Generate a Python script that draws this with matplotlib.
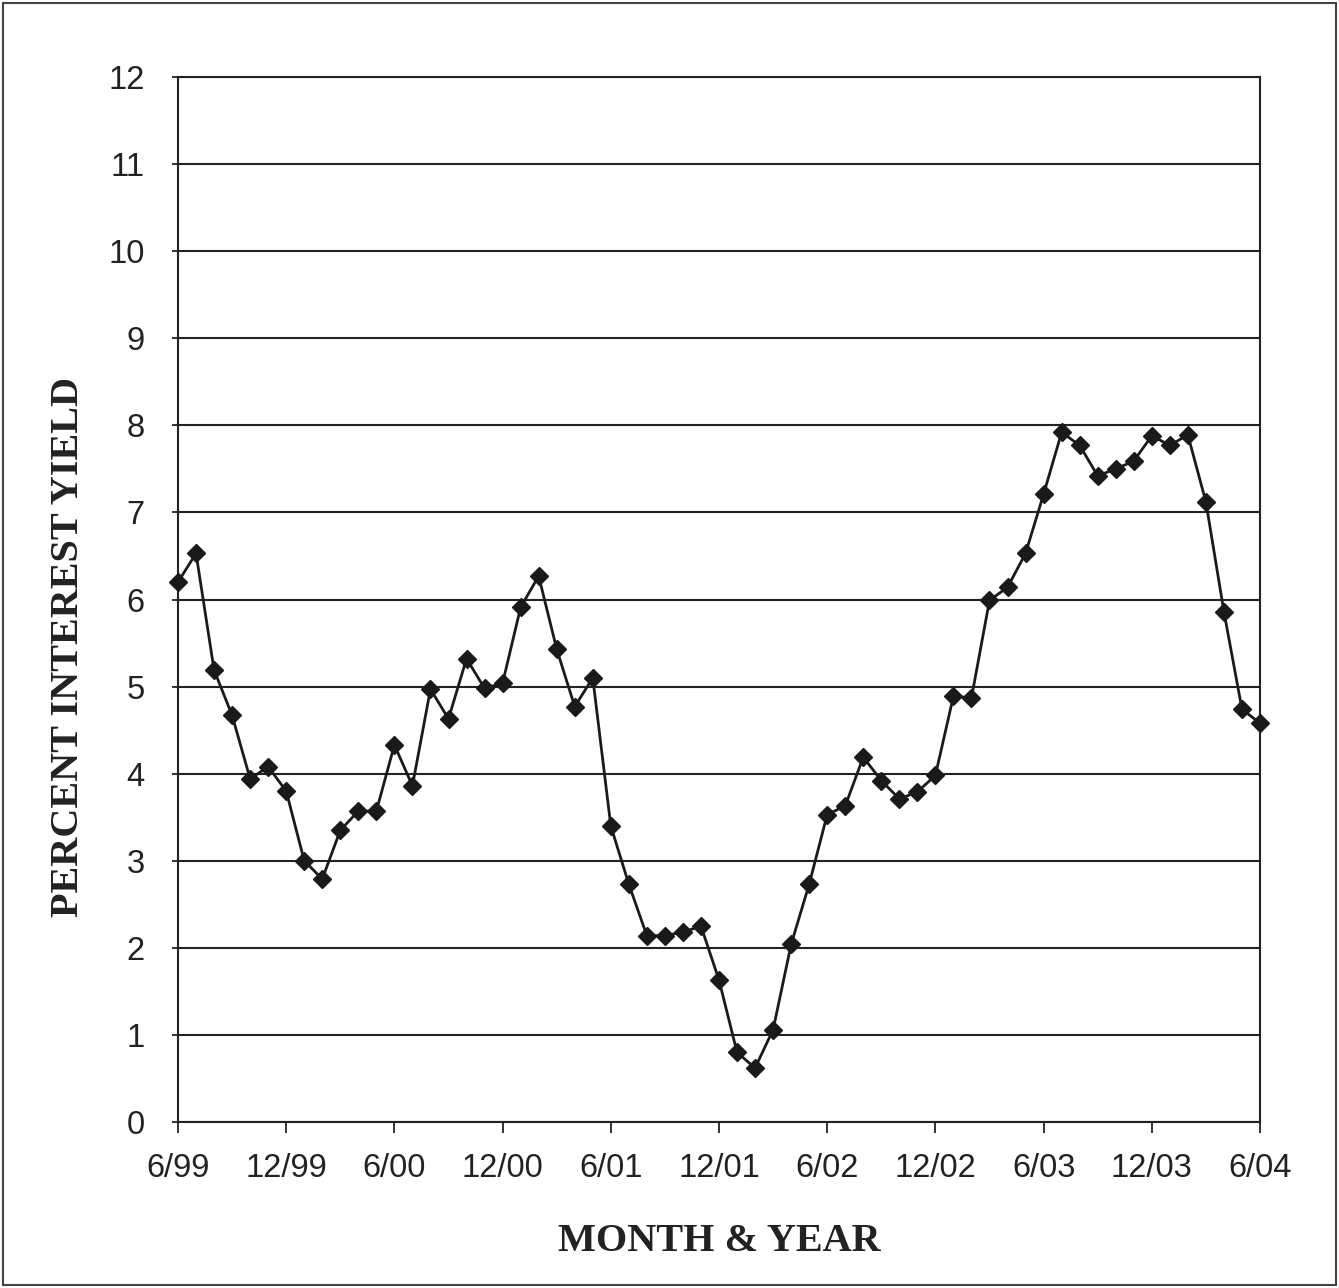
import matplotlib
matplotlib.use("Agg")
import matplotlib.pyplot as plt
from matplotlib.patches import Rectangle

tick_labels = ["6/99", "12/99", "6/00", "12/00", "6/01", "12/01",
               "6/02", "12/02", "6/03", "12/03", "6/04"]
yield_pct = [6.20, 6.53, 5.19, 4.67, 3.94, 4.08, 3.80, 3.00, 2.79, 3.35,
             3.57, 3.57, 4.33, 3.86, 4.97, 4.63, 5.32, 4.98, 5.04, 5.91,
             6.27, 5.43, 4.77, 5.10, 3.40, 2.73, 2.14, 2.14, 2.18, 2.25,
             1.63, 0.80, 0.62, 1.06, 2.04, 2.73, 3.53, 3.63, 4.19, 3.92,
             3.71, 3.79, 3.98, 4.89, 4.87, 5.99, 6.14, 6.53, 7.21, 7.92,
             7.77, 7.42, 7.50, 7.59, 7.88, 7.77, 7.89, 7.12, 5.86, 4.74,
             4.58]
months = list(range(len(yield_pct)))

W, H = 1339, 1288
fig = plt.figure(figsize=(W / 100, H / 100), dpi=100)
ax = fig.add_axes([178 / W, 1 - 1122 / H, (1260 - 178) / W, (1122 - 77) / H])

ax.plot(months, yield_pct, color="#1a1a1a", lw=2.0, marker="D",
        markersize=9, markerfacecolor="#1a1a1a", markeredgecolor="#1a1a1a",
        zorder=3, clip_on=False)

ax.set_xlim(0, 60)
ax.set_ylim(0, 12)
ax.set_xticks(range(0, 61, 6))
ax.set_xticklabels(tick_labels)
ax.set_yticks(range(0, 13))
ax.yaxis.grid(True, color="#222222", lw=1.5)
ax.set_axisbelow(True)

for s in ax.spines.values():
    s.set_color("#222222")
    s.set_linewidth(1.5)

for lab in ax.get_xticklabels() + ax.get_yticklabels():
    lab.set_fontfamily(["Liberation Sans", "DejaVu Sans"])
    lab.set_fontsize(23.5)
    lab.set_color("#222222")
ax.tick_params(axis="x", direction="out", length=8, width=1.3, pad=14,
               color="#222222")
ax.tick_params(axis="y", direction="out", length=4, width=1.3, pad=20,
               color="#222222")

ax.set_xlabel("MONTH & YEAR", fontfamily=["Liberation Serif", "DejaVu Serif"],
              fontweight="bold", fontsize=29, color="#222222")
ax.set_ylabel("PERCENT INTEREST YIELD",
              fontfamily=["Liberation Serif", "DejaVu Serif"],
              fontweight="bold", fontsize=29, color="#222222")
ax.xaxis.set_label_coords(0.5, -0.0965)
ax.yaxis.set_label_coords(-0.084, 0.4545)

fig.patches.append(Rectangle((3 / W, 3 / H), 1 - 6 / W, 1 - 6 / H,
                             transform=fig.transFigure, fill=False,
                             edgecolor="#444444", lw=1.5))

fig.savefig("out.png", dpi=100, facecolor="white")
